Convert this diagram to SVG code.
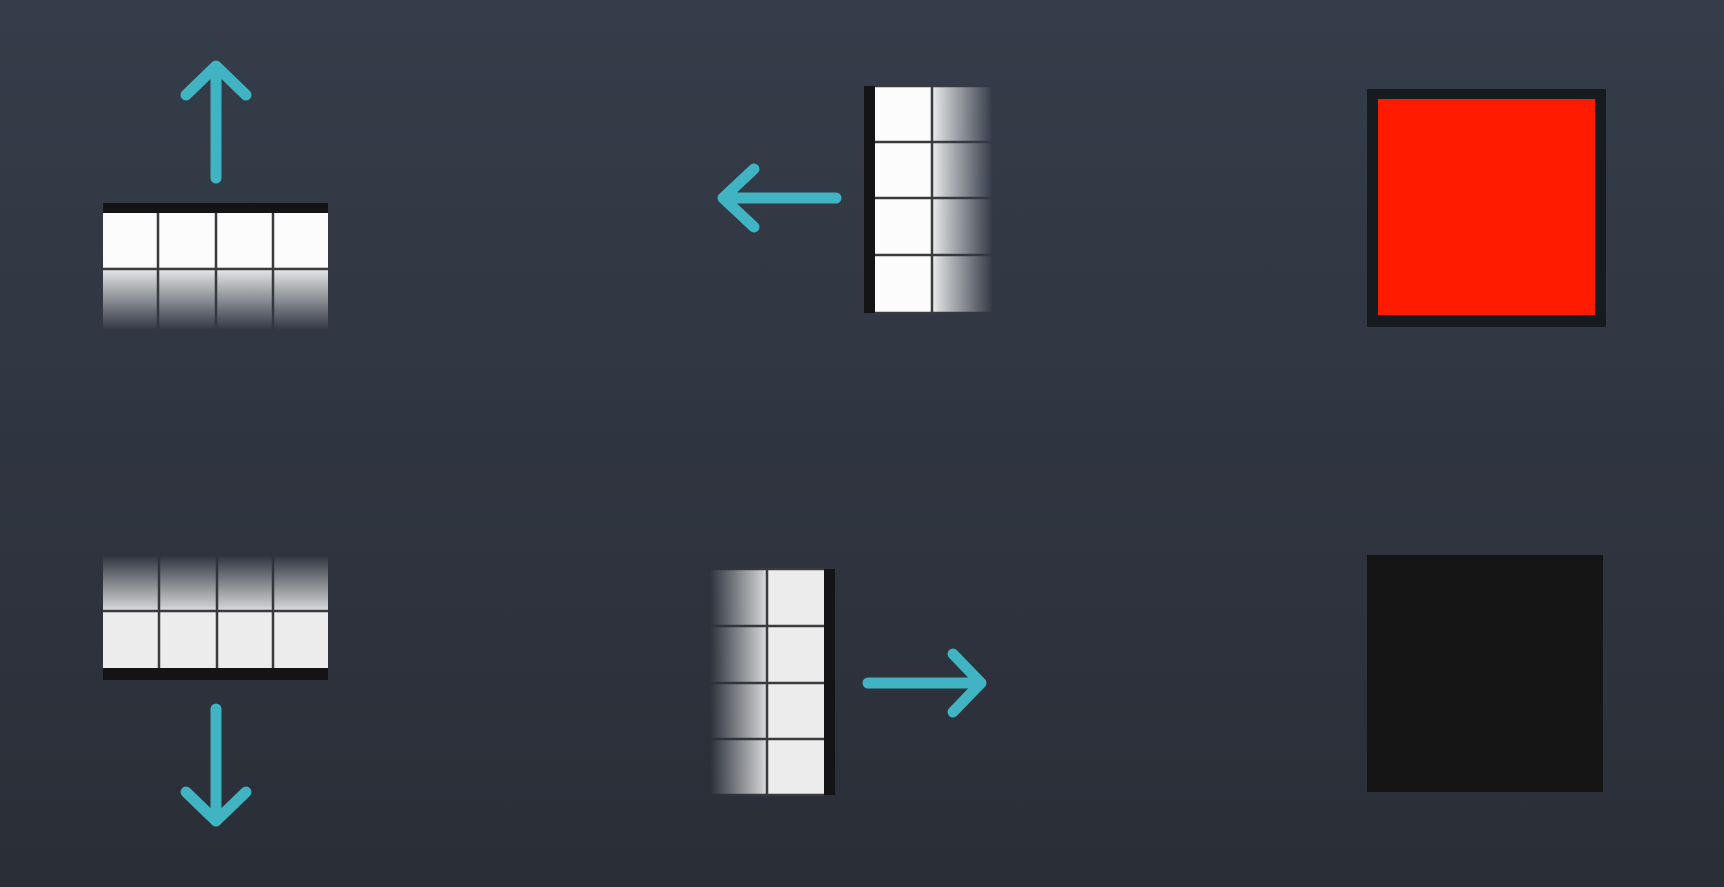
<svg xmlns="http://www.w3.org/2000/svg" width="1724" height="887" viewBox="0 0 1724 887">
  <defs>
    <linearGradient id="bg" x1="0" y1="0" x2="0" y2="1">
      <stop offset="0" stop-color="#353d4a"/>
      <stop offset="1" stop-color="#2a2e37"/>
    </linearGradient>
    <linearGradient id="fadeDown" gradientUnits="userSpaceOnUse" x1="0" y1="266" x2="0" y2="330">
      <stop offset="0" stop-color="#fff" stop-opacity="1"/>
      <stop offset="0.12" stop-color="#fff" stop-opacity="0.82"/>
      <stop offset="1" stop-color="#fff" stop-opacity="0"/>
    </linearGradient>
    <linearGradient id="fadeUp" gradientUnits="userSpaceOnUse" x1="0" y1="613" x2="0" y2="555">
      <stop offset="0" stop-color="#fff" stop-opacity="1"/>
      <stop offset="0.12" stop-color="#fff" stop-opacity="0.82"/>
      <stop offset="1" stop-color="#fff" stop-opacity="0"/>
    </linearGradient>
    <linearGradient id="fadeRight" gradientUnits="userSpaceOnUse" x1="930" y1="0" x2="993" y2="0">
      <stop offset="0" stop-color="#fff" stop-opacity="1"/>
      <stop offset="0.12" stop-color="#fff" stop-opacity="0.82"/>
      <stop offset="1" stop-color="#fff" stop-opacity="0"/>
    </linearGradient>
    <linearGradient id="fadeLeft" gradientUnits="userSpaceOnUse" x1="769" y1="0" x2="710" y2="0">
      <stop offset="0" stop-color="#fff" stop-opacity="1"/>
      <stop offset="0.12" stop-color="#fff" stop-opacity="0.82"/>
      <stop offset="1" stop-color="#fff" stop-opacity="0"/>
    </linearGradient>
    <mask id="m1" maskUnits="userSpaceOnUse" x="0" y="0" width="1724" height="887">
      <rect x="90" y="190" width="250" height="150" fill="url(#fadeDown)"/>
    </mask>
    <mask id="m2" maskUnits="userSpaceOnUse" x="0" y="0" width="1724" height="887">
      <rect x="850" y="75" width="160" height="250" fill="url(#fadeRight)"/>
    </mask>
    <mask id="m3" maskUnits="userSpaceOnUse" x="0" y="0" width="1724" height="887">
      <rect x="90" y="545" width="250" height="150" fill="url(#fadeUp)"/>
    </mask>
    <mask id="m4" maskUnits="userSpaceOnUse" x="0" y="0" width="1724" height="887">
      <rect x="700" y="555" width="150" height="250" fill="url(#fadeLeft)"/>
    </mask>
  </defs>
  <style>
    .cell { fill: #fcfcfc; }
    .cellB { fill: #ececec; }
    .gl { stroke: #3a3b3d; stroke-width: 2.5; fill: none; }
    .bar { fill: #141416; }
    .arrow { stroke: #41b4c4; stroke-width: 11; fill: none; stroke-linecap: round; stroke-linejoin: round; }
  </style>

  <rect x="0" y="0" width="1724" height="887" fill="url(#bg)"/>

  <g id="grid-top-left">
    <rect class="bar" x="103" y="203" width="225" height="11"/>
    <g mask="url(#m1)">
      <rect class="cell" x="103" y="213" width="225" height="116"/>
      <path class="gl" d="M103 269H328 M158 213V330 M216 213V330 M273 213V330"/>
    </g>
  </g>

  <g id="grid-top-middle">
    <rect class="bar" x="864" y="86" width="11" height="227"/>
    <g mask="url(#m2)">
      <rect class="cell" x="875" y="86" width="118" height="227"/>
      <path class="gl" d="M875 86H993 M875 142H993 M875 198H993 M875 255H993 M875 313H993 M932 86V313"/>
    </g>
  </g>

  <g id="grid-bottom-left">
    <rect class="bar" x="103" y="668" width="225" height="12"/>
    <g mask="url(#m3)">
      <rect class="cellB" x="103" y="555" width="225" height="113"/>
      <path class="gl" d="M103 611H328 M159 555V668 M217 555V668 M273 555V668"/>
    </g>
  </g>

  <g id="grid-bottom-middle">
    <rect class="bar" x="824" y="569" width="11" height="226"/>
    <g mask="url(#m4)">
      <rect class="cellB" x="710" y="569" width="114" height="226"/>
      <path class="gl" d="M710 569H824 M710 626H824 M710 683H824 M710 739H824 M710 795H824 M767 569V795"/>
    </g>
  </g>

  <g id="red-square">
    <rect x="1367" y="89" width="239" height="238" fill="#161b1f"/>
    <rect x="1378" y="99" width="217" height="216" fill="#ff1b00"/>
  </g>

  <g id="dark-square">
    <rect x="1367" y="555" width="236" height="237" fill="#151515"/>
  </g>

  <g id="connectors">
    <path class="arrow" d="M216 178V67 M186 95L216 66L246 95"/>
    <path class="arrow" d="M836 198H723 M754 169L723 198L754 227"/>
    <path class="arrow" d="M216 709V821 M186 792L216 821L246 792"/>
    <path class="arrow" d="M868 683H981 M953 654L981 683L953 712"/>
  </g>
</svg>
